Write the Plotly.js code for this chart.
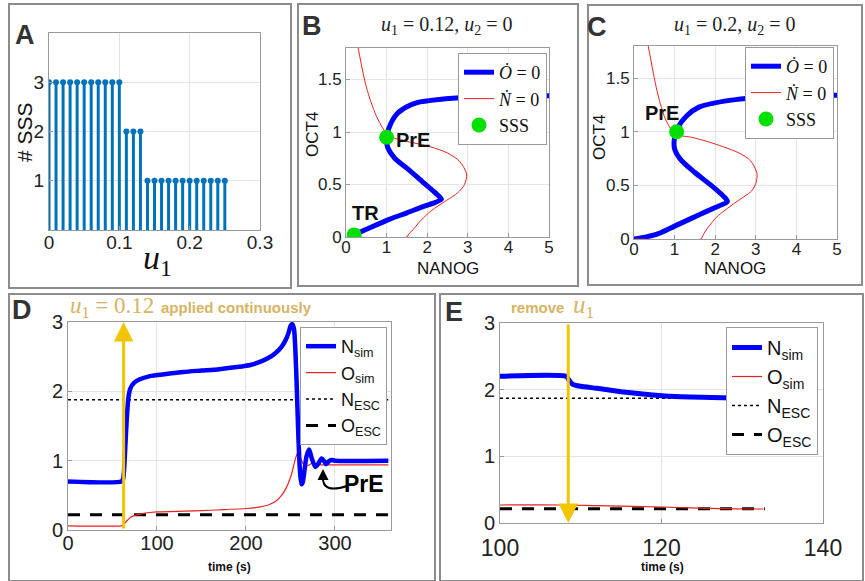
<!DOCTYPE html>
<html><head><meta charset="utf-8">
<script src="https://cdn.plot.ly/plotly-3.0.1.min.js"></script>
<style>html,body{margin:0;padding:0;background:#fff}#c{width:865px;height:581px}</style>
</head><body><div id="c"></div>
<script>
// ---------- DATA ----------
// Panel A: number of stable steady states vs u1
const uA = [0,0.01,0.02,0.03,0.04,0.05,0.06,0.07,0.08,0.09,0.10,0.11,0.12,0.13,0.14,0.15,0.16,0.17,0.18,0.19,0.20,0.21,0.22,0.23,0.24,0.25];
const sssA = [3,3,3,3,3,3,3,3,3,3,3,2,2,2,1,1,1,1,1,1,1,1,1,1,1,1];

// Panel B nullclines (u1=0.12)
const bOx = [0.2,0.6,1.08,1.5,1.9,2.2,2.35,2.2,1.9,1.55,1.2,1.03,1.0,1.05,1.25,1.5,1.75,2.3,3.0,4.0,5.0];
const bOy = [0.02,0.09,0.17,0.23,0.29,0.33,0.36,0.42,0.52,0.64,0.75,0.85,0.93,1.03,1.17,1.24,1.28,1.31,1.33,1.34,1.345];
const bNx = [0.3,0.4,0.5,0.62,0.75,0.9,1.0,1.2,1.5,2.07,2.5,2.8,2.97,2.92,2.75,2.48,2.1,1.85,1.65,1.53,1.5,0.2];
const bNy = [1.8,1.6,1.43,1.28,1.15,1.04,0.99,0.94,0.91,0.86,0.8,0.72,0.6,0.5,0.42,0.35,0.25,0.16,0.07,0.02,0.0,0.0];
const bSx = [0.2,1.0];
const bSy = [0.02,0.95];

// Panel C nullclines (u1=0.2)
const cOx = [0.0,0.3,0.6,1.0,1.4,1.8,2.1,2.3,2.2,1.9,1.5,1.15,1.0,1.0,1.08,1.3,1.6,2.0,2.5,3.1,4.0,5.0];
const cOy = [0.0,0.02,0.05,0.12,0.19,0.26,0.31,0.35,0.4,0.5,0.62,0.74,0.84,0.95,1.04,1.15,1.23,1.27,1.3,1.32,1.335,1.34];
const cNx = [0.35,0.45,0.55,0.65,0.76,0.9,1.0,1.2,1.4,1.8,2.2,2.6,2.87,3.03,3.0,2.9,2.46,2.05,1.85,1.72,1.67,1.65,0.0];
const cNy = [1.8,1.6,1.41,1.26,1.13,1.03,0.98,0.96,0.95,0.91,0.86,0.8,0.73,0.61,0.52,0.45,0.33,0.21,0.12,0.05,0.01,0.0,0.0];
const cSx = [1.05];
const cSy = [1.0];

// Panel D time courses (u1=0.12 applied)
const dTn = [0,60,62,64,66,68,70,74,80,92,110,130,150,170,190,205,215,225,233,240,245,248,250,252,254,255.5,257,258.5,260,261.5,262.5,264,266,268,271,274,278,281,285,288,290,293,296,300,360];
const dN  = [0.7,0.7,0.74,1.1,1.6,1.92,2.04,2.12,2.17,2.22,2.25,2.28,2.3,2.32,2.35,2.38,2.42,2.48,2.55,2.64,2.75,2.85,2.94,2.97,2.9,2.6,2.1,1.5,1.0,0.74,0.66,0.7,0.88,1.06,1.16,1.03,0.91,0.95,1.03,0.99,0.95,0.99,1.01,1.0,1.0];
const dTo = [0,60,62,66,70,75,85,100,150,200,215,225,233,240,245,249,252,255,257.5,259,261,264,267,270,274,278,285,300,360];
const dO  = [0.06,0.06,0.07,0.13,0.18,0.21,0.24,0.26,0.28,0.31,0.33,0.36,0.41,0.5,0.6,0.72,0.84,1.0,1.1,1.12,1.05,0.96,0.92,0.93,0.96,0.95,0.94,0.94,0.94];
const dEscT = [0,360];
const nESC = [1.88,1.88];
const oESC = [0.22,0.22];

// Panel E time courses (u1 removed)
const eT = [100,108.2,108.5,109,110,112,115,118,121,125,130,133];
const eN = [2.2,2.2,2.15,2.08,2.05,2.02,1.97,1.93,1.9,1.885,1.875,1.87];
const eTo = [100,108,112,120,126,132.6];
const eO  = [0.27,0.27,0.26,0.24,0.22,0.21];
const eEscT = [100,132.8];
const eNesc = [1.87,1.87];
const eOesc = [0.215,0.215];

// ---------- helpers ----------
const W = 865, H = 581;
const X = p => p / W, Y = p => 1 - p / H;
const BLUE = '#0000ff', RED = '#e8231e', STEM = '#0072BD', GREEN = '#00e000';
const SANS = 'Liberation Sans, Arial, sans-serif';
const SERIF = 'Liberation Serif, DejaVu Serif, serif';
const TAN = '#d6b463', GOLD = '#f2c500';

function ax(domain, range, opts) {
  return Object.assign({
    domain: domain, range: range, showline: true, mirror: true, linecolor: '#9a9a9a', linewidth: 1,
    ticks: 'inside', ticklen: 4, tickcolor: '#9a9a9a', showgrid: true, gridcolor: '#e4e4e4', zeroline: false,
    tickfont: {family: SANS, size: 17, color: '#222'}, fixedrange: true
  }, opts || {});
}

const O_DOT = '<i>\u022E</i> = 0';
const N_DOT = '<i>\u1E44</i> = 0';

const traces = [
  // A stems
  {x: uA, y: sssA, type: 'scatter', mode: 'markers', xaxis: 'x', yaxis: 'y', showlegend: false,
   marker: {color: STEM, size: 6},
   error_y: {type: 'data', symmetric: false, array: uA.map(() => 0), arrayminus: sssA, width: 0, thickness: 3, color: STEM}},
  // B
  {x: bOx, y: bOy, xaxis: 'x2', yaxis: 'y2', mode: 'lines', line: {color: BLUE, width: 5, shape: 'spline', smoothing: 0.8}, name: O_DOT, legend: 'legend'},
  {x: bNx, y: bNy, xaxis: 'x2', yaxis: 'y2', mode: 'lines', line: {color: RED, width: 1, shape: 'spline', smoothing: 0.8}, name: N_DOT, legend: 'legend'},
  {x: bSx, y: bSy, xaxis: 'x2', yaxis: 'y2', mode: 'markers', marker: {color: GREEN, size: 15}, name: 'SSS', legend: 'legend'},
  // C
  {x: cOx, y: cOy, xaxis: 'x3', yaxis: 'y3', mode: 'lines', line: {color: BLUE, width: 5, shape: 'spline', smoothing: 0.8}, name: O_DOT, legend: 'legend2'},
  {x: cNx, y: cNy, xaxis: 'x3', yaxis: 'y3', mode: 'lines', line: {color: RED, width: 1, shape: 'spline', smoothing: 0.8}, name: N_DOT, legend: 'legend2'},
  {x: cSx, y: cSy, xaxis: 'x3', yaxis: 'y3', mode: 'markers', marker: {color: GREEN, size: 15}, name: 'SSS', legend: 'legend2'},
  // D (drawn bottom to top; legend reversed -> N_sim, O_sim, N_ESC, O_ESC)
  {x: dEscT, y: oESC, xaxis: 'x4', yaxis: 'y4', mode: 'lines', line: {color: '#000', width: 3, dash: '12px,10px'}, name: 'O<sub>ESC</sub>', legend: 'legend3'},
  {x: dEscT, y: nESC, xaxis: 'x4', yaxis: 'y4', mode: 'lines', line: {color: '#000', width: 1.5, dash: 'dot'}, name: 'N<sub>ESC</sub>', legend: 'legend3'},
  {x: dTo, y: dO, xaxis: 'x4', yaxis: 'y4', mode: 'lines', line: {color: RED, width: 1.2, shape: 'spline', smoothing: 0.6}, name: 'O<sub>sim</sub>', legend: 'legend3'},
  {x: dTn, y: dN, xaxis: 'x4', yaxis: 'y4', mode: 'lines', line: {color: BLUE, width: 4.5, shape: 'spline', smoothing: 0.6}, name: 'N<sub>sim</sub>', legend: 'legend3'},
  // E
  {x: eEscT, y: eOesc, xaxis: 'x5', yaxis: 'y5', mode: 'lines', line: {color: '#000', width: 3, dash: '12px,10px'}, name: 'O<sub>ESC</sub>', legend: 'legend4'},
  {x: eEscT, y: eNesc, xaxis: 'x5', yaxis: 'y5', mode: 'lines', line: {color: '#000', width: 1.5, dash: 'dot'}, name: 'N<sub>ESC</sub>', legend: 'legend4'},
  {x: eTo, y: eO, xaxis: 'x5', yaxis: 'y5', mode: 'lines', line: {color: RED, width: 1.2, shape: 'spline'}, name: 'O<sub>sim</sub>', legend: 'legend4'},
  {x: eT, y: eN, xaxis: 'x5', yaxis: 'y5', mode: 'lines', line: {color: BLUE, width: 5, shape: 'spline', smoothing: 0.6}, name: 'N<sub>sim</sub>', legend: 'legend4'}
];

function leg(xr, y0, size, family) {
  return {x: X(xr), y: Y(y0), xanchor: 'right', yanchor: 'top', bgcolor: '#fff', bordercolor: '#9a9a9a', borderwidth: 1,
          font: {family: family, size: size, color: '#111'}, itemwidth: 30, traceorder: 'normal', tracegroupgap: 0};
}
const legD = leg(387, 327, 18, SANS); legD.traceorder = 'reversed';
const legE = leg(818, 327, 20, SANS); legE.traceorder = 'reversed';

function txt(x, y, text, size, opts) {
  return Object.assign({xref: 'paper', yref: 'paper', x: X(x), y: Y(y), text: text, showarrow: false,
    xanchor: 'center', yanchor: 'middle', font: {family: SANS, size: size, color: '#111'}}, opts || {});
}
const LET = {family: SANS, size: 27, color: '#333'};

const annotations = [
  txt(25, 35, '<b>A</b>', 27, {font: LET}),
  txt(312, 26, '<b>B</b>', 27, {font: LET}),
  txt(597, 27, '<b>C</b>', 27, {font: LET}),
  txt(22, 310, '<b>D</b>', 27, {font: LET}),
  txt(454, 312, '<b>E</b>', 27, {font: LET}),
  // axis titles
  txt(24, 132, '# SSS', 21, {textangle: -90}),
  txt(157, 260, '<i>u</i><sub>1</sub>', 34, {font: {family: SERIF, size: 34, color: '#111'}}),
  txt(312, 135, 'OCT4', 17, {textangle: -90}),
  txt(448, 268, 'NANOG', 17),
  txt(600, 138, 'OCT4', 17, {textangle: -90}),
  txt(735, 268, 'NANOG', 17),
  txt(447, 26, '<i>u</i><sub>1</sub> = 0.12, <i>u</i><sub>2</sub> = 0', 20, {font: {family: SERIF, size: 20, color: '#222'}}),
  txt(735, 26, '<i>u</i><sub>1</sub> = 0.2, <i>u</i><sub>2</sub> = 0', 20, {font: {family: SERIF, size: 20, color: '#222'}}),
  txt(365, 213, '<b>TR</b>', 20),
  txt(413, 140, '<b>PrE</b>', 20),
  txt(662, 113, '<b>PrE</b>', 20),
  txt(230, 567, '<b>time (s)</b>', 12),
  txt(662, 567, '<b>time (s)</b>', 12),
  // top labels
  txt(112, 307, '<i>u</i><sub>1</sub> = 0.12', 23, {font: {family: SERIF, size: 23, color: TAN}}),
  txt(159, 307, '<b>applied continuously</b>', 15, {xanchor: 'left', font: {family: SANS, size: 15, color: TAN}}),
  txt(566, 307, '<b>remove</b>', 15, {xanchor: 'right', font: {family: SANS, size: 15, color: TAN}}),
  txt(583, 306, '<i>u</i><sub>1</sub>', 25, {font: {family: SERIF, size: 25, color: TAN}}),
  // arrows
  {xref: 'x4', yref: 'y4', axref: 'x4', ayref: 'y4', x: 62.5, y: 3.0, ax: 62.5, ay: 0, text: '', showarrow: true,
   arrowcolor: GOLD, arrowwidth: 3, arrowhead: 2, arrowsize: 1.3, standoff: 0, startstandoff: 0},
  {xref: 'x5', yref: 'y5', axref: 'x5', ayref: 'y5', x: 108.45, y: 0.0, ax: 108.45, ay: 3.0, text: '', showarrow: true,
   arrowcolor: GOLD, arrowwidth: 3, arrowhead: 2, arrowsize: 1.3, standoff: 0, startstandoff: 0},
  // PrE label in D with hooked arrow
  txt(364, 484, '<b>PrE</b>', 23, {font: {family: SANS, size: 23, color: '#000'}}),
  {xref: 'paper', yref: 'paper', x: X(323), y: Y(469), ax: 0, ay: 9, text: '', showarrow: true,
   arrowcolor: '#000', arrowwidth: 2, arrowhead: 2, arrowsize: 1.1, standoff: 0}
];

const frame = (x0, y0, x1, y1) => ({type: 'rect', xref: 'paper', yref: 'paper', x0: X(x0), x1: X(x1), y0: Y(y1), y1: Y(y0),
  line: {color: '#8c8c8c', width: 2}, fillcolor: 'rgba(0,0,0,0)', layer: 'below'});
const hook = {type: 'path', xref: 'paper', yref: 'paper',
  path: 'M ' + X(347) + ',' + Y(486) + ' Q ' + X(322) + ',' + Y(494) + ' ' + X(323) + ',' + Y(477),
  line: {color: '#000', width: 2}};

const SO = -5;
const layout = {
  width: W, height: H, margin: {l: 0, r: 0, t: 0, b: 0}, paper_bgcolor: '#fff', plot_bgcolor: '#fff',
  showlegend: true, hovermode: false,
  xaxis: ax([X(49), X(260)], [0, 0.3], {anchor: 'y', ticklabelstandoff: SO, tickvals: [0, 0.1, 0.2, 0.3], ticktext: ['0', '0.1', '0.2', '0.3'], tickfont: {family: SANS, size: 19, color: '#222'}}),
  yaxis: ax([Y(230), Y(33)], [0, 4], {anchor: 'x', tickvals: [1, 2, 3], tickfont: {family: SANS, size: 19, color: '#222'}}),
  xaxis2: ax([X(346), X(549)], [0, 5], {anchor: 'y2', dtick: 1, ticklabelstandoff: SO}),
  yaxis2: ax([Y(237), Y(48)], [0, 1.8], {anchor: 'x2', tickvals: [0, 0.5, 1, 1.5]}),
  xaxis3: ax([X(634), X(837)], [0, 5], {anchor: 'y3', dtick: 1, ticklabelstandoff: SO}),
  yaxis3: ax([Y(239), Y(46)], [0, 1.8], {anchor: 'x3', tickvals: [0, 0.5, 1, 1.5]}),
  xaxis4: ax([X(68), X(391)], [0, 363], {anchor: 'y4', ticklabelstandoff: SO, tickvals: [0, 100, 200, 300], tickfont: {family: SANS, size: 20, color: '#222'}}),
  yaxis4: ax([Y(530), Y(322)], [0, 3], {anchor: 'x4', tickvals: [0, 1, 2, 3], tickfont: {family: SANS, size: 20, color: '#222'}}),
  xaxis5: ax([X(500), X(823)], [100, 140], {anchor: 'y5', ticklabelstandoff: 4, tickvals: [100, 120, 140], tickfont: {family: SANS, size: 23, color: '#222'}}),
  yaxis5: ax([Y(523), Y(323)], [0, 3], {anchor: 'x5', tickvals: [0, 1, 2, 3], tickfont: {family: SANS, size: 20, color: '#222'}}),
  legend: leg(547, 53, 18, SERIF),
  legend2: leg(834, 47, 18, SERIF),
  legend3: legD,
  legend4: legE,
  annotations: annotations,
  shapes: [frame(9, 4, 291, 288), frame(298, 4, 578, 286), frame(588, 5, 862, 285), frame(9, 294, 435, 581), frame(440, 294, 863, 581), hook]
};

Plotly.newPlot('c', traces, layout, {staticPlot: true, displayModeBar: false});
</script></body></html>
